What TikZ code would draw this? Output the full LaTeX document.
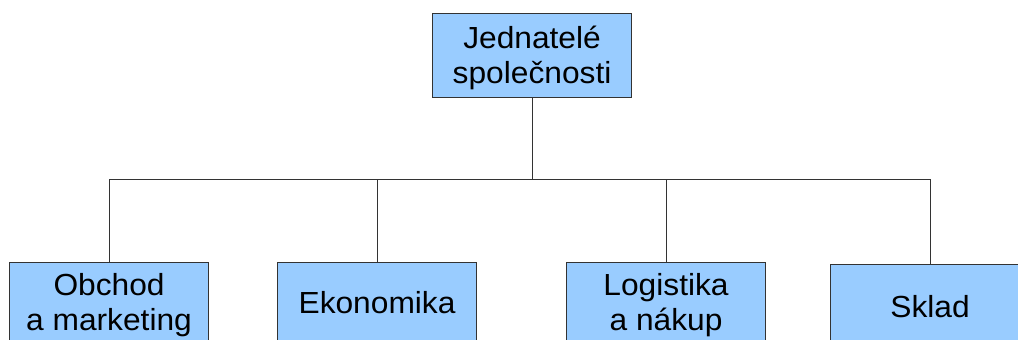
\documentclass[tikz,border=0pt]{standalone}
\usepackage{fontspec}
\setmainfont{Liberation Sans}[FakeStretch=1.04]
\definecolor{boxblue}{HTML}{99CCFF}
\definecolor{linegray}{HTML}{333333}
\begin{document}
\begin{tikzpicture}[x=1pt,y=-1pt,
  unit/.style={draw=linegray, fill=boxblue, line width=1.1pt, minimum width=199pt,
    minimum height=84pt, inner sep=0pt, anchor=north west},
  txt/.style={inner sep=0pt, align=center, anchor=base,
    font=\fontsize{30.5}{35}\selectfont},
  conn/.style={draw=linegray, line width=1.1pt}]
\useasboundingbox (0,0) rectangle (1018,340);
\clip (0,0) rectangle (1018,340);
\node[unit] (top) at (432,13) {};
\node[unit] (b1) at (9,262) {};
\node[unit] (b2) at (277,262) {};
\node[unit] (b3) at (566,262) {};
\node[unit] (b4) at (830,264) {};
\node[txt] (ttop) at ([yshift=-70pt]top.north) {Jednatelé\hspace{16pt}\\společnosti};
\node[txt] (tb1) at ([yshift=-68pt]b1.north) {Obchod\hspace{8pt}\\a marketing};
\node[txt] (tb2) at ([yshift=-51pt]b2.north) {Ekonomika};
\node[txt] (tb3) at ([yshift=-68pt]b3.north) {Logistika\\a nákup};
\node[txt] (tb4) at ([yshift=-53pt]b4.north) {Sklad};
\coordinate (bus) at (531,179.5);
\draw[conn] (top.south) -- (top.south |- bus);
\draw[conn] (b1.north) |- (bus) -| (b4.north);
\draw[conn] (b2.north) -- (b2.north |- bus);
\draw[conn] (b3.north) -- (b3.north |- bus);
\end{tikzpicture}
\end{document}
